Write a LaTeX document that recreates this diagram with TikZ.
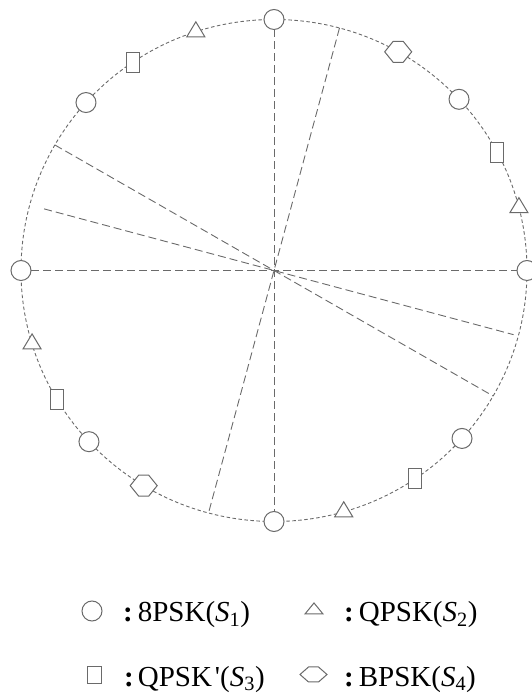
\documentclass[tikz,border=0pt]{standalone}
\usepackage{fontspec}
\setmainfont{Liberation Serif}
\usetikzlibrary{calc}
\definecolor{linegray}{HTML}{6A6A6A}
\tikzset{
  ring/.style={draw=linegray, line width=0.9pt, dash pattern=on 3.5pt off 2.5pt},
  spoke/.style={draw=linegray, line width=0.9pt, dash pattern=on 8pt off 4pt},
  mk/.style={draw=linegray, line width=1pt, fill=white, inner sep=0pt, outer sep=0pt},
  psk8/.style={mk, circle, minimum size=20pt},
  qpskb/.style={mk, rectangle, minimum width=#1},
  qpskb/.default=13pt,
  legtext/.style={anchor=base west, inner sep=0pt, font=\fontsize{29}{34}\selectfont},
  % upright triangle, origin at its centroid: {width}{height}
  pics/tri/.style 2 args={code={
    \coordinate (-c) at (0,0);
    \path[mk] (0,{2*#2/3}) -- ({#1/2},{-#2/3}) -- ({-#1/2},{-#2/3}) -- cycle;}},
  % flat-topped hexagon with pointed sides: {width}{height}{flat length}
  pics/hexa/.style n args={3}{code={
    \coordinate (-c) at (0,0);
    \path[mk] ({-#1/2},0) -- ({-#3/2},{#2/2}) -- ({#3/2},{#2/2}) -- ({#1/2},0)
      -- ({#3/2},{-#2/2}) -- ({-#3/2},{-#2/2}) -- cycle;}}
}
\begin{document}
\begin{tikzpicture}[x=1pt,y=1pt]
\useasboundingbox (0,0) rectangle (531,695);

\begin{scope}[shift={(274,424.5)}]
  % dashed ring
  \draw[ring] (0,0) ellipse [x radius=253, y radius=251];

  % 8PSK points
  \foreach \a/\n in {0/c0, 43/c43, 90/c90, 138/c138, 180/c180, 223/c223, 270/c270, 318/c318}
    \node[psk8] (\n) at (\a:253 and 251) {};

  % QPSK points
  \foreach \a/\n in {14.5/t1, 108/t2, 197/t3, 286/t4}
    \pic (\n) at (\a:253 and 251) {tri={18}{15}};

  % QPSK' points
  \foreach \a/\n in {28/r1, 124/r2, 211/r3, 304/r4}
    \node[qpskb, minimum height=20pt] (\n) at (\a:253 and 251) {};

  % BPSK points
  \pic (h1) at (60.6:253 and 251) {hexa={27}{21}{10}};
  \pic (h2) at (239:253 and 251) {hexa={27}{21}{10}};

  % ends of the slanted diameters
  \coordinate (s75)  at (75:253 and 251);
  \coordinate (s255) at (255:253 and 251);
  \coordinate (s150) at (150:253 and 251);
  \coordinate (s330) at (330:253 and 251);
  \coordinate (s165) at (165:238);
  \coordinate (s345) at (345:248);

  \draw[spoke] (c90) -- (c270);
  \draw[spoke] (c180) -- (c0);
  \draw[spoke] (s75) -- (s255);
  \draw[spoke] (s150) -- (s330);
  \draw[spoke] (s165) -- (s345);
\end{scope}

% legend
\node[psk8] (k1) at (92,84) {};
\pic (k2) at (314,84.7) {tri={18}{11}};
\node[qpskb=14pt, minimum height=17pt] (k3) at (94,20) {};
\pic (k4) at (313.5,20.5) {hexa={27}{15}{10}};

\node[legtext] (l1) at (123,73) {\textbf{:}\hspace{5pt}8PSK(\textit{S}\textsubscript{1})};
\node[legtext] (l2) at (344,73) {\textbf{:}\hspace{5pt}QPSK(\textit{S}\textsubscript{2})};
\node[legtext] (l3) at (124,9) {\textbf{:}\hspace{4pt}QPSK\hspace{3pt}\textquotesingle(\textit{S}\textsubscript{3})};
\node[legtext] (l4) at (344,9) {\textbf{:}\hspace{5pt}BPSK(\textit{S}\textsubscript{4})};
\end{tikzpicture}
\end{document}
